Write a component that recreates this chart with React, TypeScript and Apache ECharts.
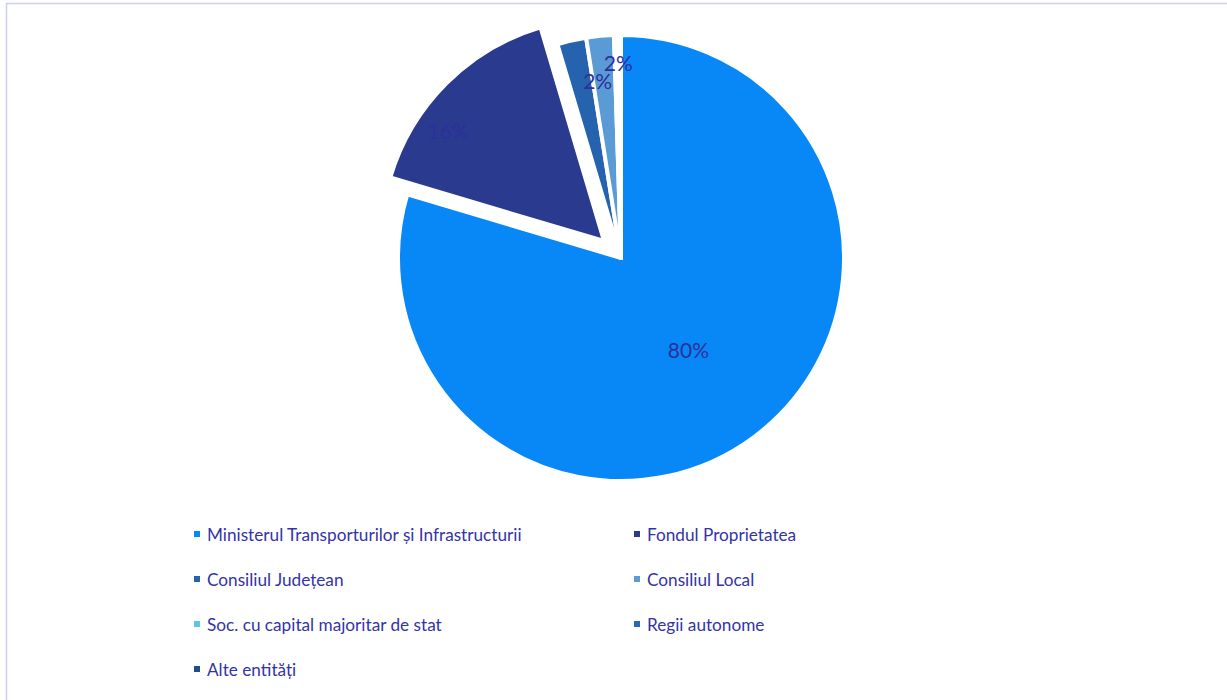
import React, { useEffect, useRef } from "react";
import * as echarts from "echarts";

const categories = [
  "Ministerul Transporturilor și Infrastructurii",
  "Fondul Proprietatea",
  "Consiliul Județean",
  "Consiliul Local",
  "Soc. cu capital majoritar de stat",
  "Regii autonome",
  "Alte entități",
];
const values = [79.6, 15.8, 2.1, 2.0, 0.2, 0.2, 0.1];
const colors = ["#0888f7", "#2a3a8f", "#2563ae", "#5b9bd5", "#5cc3ea", "#2b68b2", "#1c4f8a"];
const legendLeft = [categories[0], categories[2], categories[4], categories[6]];
const legendRight = [categories[1], categories[3], categories[5]];

const labelShift: Record<number, [number, number]> = {
  0: [-1, 0],
  1: [-75, -30],
  2: [2, -66],
  3: [8, -82],
};

export default function App() {
  const ref = useRef<HTMLDivElement>(null);
  useEffect(() => {
    if (!ref.current) return;
    const chart = echarts.init(ref.current, null, { renderer: "svg" });
    const font = "Lato, 'Open Sans', sans-serif";
    const legendCommon = {
      orient: "vertical" as const,
      top: 524,
      padding: 0,
      icon: "rect",
      itemWidth: 8,
      itemHeight: 8,
      itemGap: 25,
      selectedMode: false,
      textStyle: {
        color: "#3333a8",
        fontSize: 17.2,
        fontFamily: font,
        lineHeight: 20,
        padding: [0, 0, 0, 1],
      },
    };
    chart.setOption({
      animation: false,
      backgroundColor: "#ffffff",
      graphic: [
        {
          type: "rect",
          shape: { x: 6.5, y: 3.5, width: 1240, height: 720 },
          style: { fill: "none", stroke: "#cdcdf2", lineWidth: 1.5 },
          silent: true,
        },
      ],
      legend: [
        { ...legendCommon, left: 192, data: legendLeft },
        { ...legendCommon, left: 632, data: legendRight },
      ],
      series: [
        {
          type: "pie",
          center: [621, 258],
          radius: [0, 223],
          startAngle: 90,
          clockwise: true,
          selectedMode: "single",
          selectedOffset: 24,
          avoidLabelOverlap: false,
          itemStyle: { borderColor: "#ffffff", borderWidth: 4 },
          label: {
            show: true,
            position: "inside",
            formatter: (p: any) => Math.round(p.value) + "%",
            color: "#2e2f9c",
            fontSize: 21,
            fontFamily: font,
          },
          labelLine: { show: false },
          emphasis: { disabled: true },
          labelLayout: (params: any) => {
            const s = labelShift[params.dataIndex];
            return s ? { dx: s[0], dy: s[1] } : {};
          },
          data: categories.map((name, i) => ({
            name,
            value: values[i],
            selected: i === 1,
            itemStyle: { color: colors[i] },
            label: { show: i < 4 },
          })),
        },
      ],
    });
    return () => chart.dispose();
  }, []);
  return (
    <div
      ref={ref}
      style={{ position: "fixed", left: 0, top: 0, width: 1227, height: 700 }}
    />
  );
}
